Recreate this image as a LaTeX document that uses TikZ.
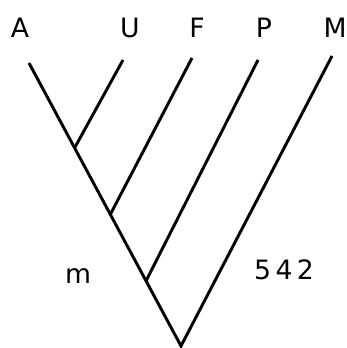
\documentclass[tikz,border=0pt]{standalone}
\usepackage{fontspec}
\setmainfont{DejaVu Sans}
\usepackage{tikz}
\usetikzlibrary{calc, positioning}

\begin{document}
\begin{tikzpicture}[
    x=0.75pt, y=-0.75pt,
    branch_line/.style={draw=black, line width=2.2pt},
    taxon_label/.style={font=\fontsize{20}{22}\selectfont, inner sep=0pt, anchor=center},
    side_label/.style={font=\fontsize{20}{22}\selectfont, inner sep=0pt, anchor=center}
]
    \useasboundingbox (0,0) rectangle (346,348);

    % =========================================================================
    % TAXA
    % =========================================================================
    \node [taxon_label] (tA) at (20, 28) {A};
    \node [taxon_label] (tU) at (130, 28) {U};
    \node [taxon_label] (tF) at (197, 28) {F};
    \node [taxon_label] (tP) at (264, 28) {P};
    \node [taxon_label] (tM) at (335, 28) {M};

    \coordinate (eA) at (29, 63);
    \coordinate (eU) at (123, 60);
    \coordinate (eF) at (192, 58);
    \coordinate (eP) at (258, 60);
    \coordinate (eM) at (332, 56);

    % =========================================================================
    % NODES OF THE TREE
    % =========================================================================
    \coordinate (root) at (181, 346);
    \coordinate (nU) at ($(eA)!0.30!(root)$);
    \coordinate (nF) at ($(eA)!0.535!(root)$);
    \coordinate (nP) at ($(eA)!0.77!(root)$);

    \draw [branch_line] (eA) -- (root) -- (eM);
    \draw [branch_line] (nU) -- (eU);
    \draw [branch_line] (nF) -- (eF);
    \draw [branch_line] (nP) -- (eP);

    \node [side_label] (lm) at (78, 276) {m};
    \node [side_label] (lnum) at (284, 270) {5\,4\,2};
\end{tikzpicture}
\end{document}
